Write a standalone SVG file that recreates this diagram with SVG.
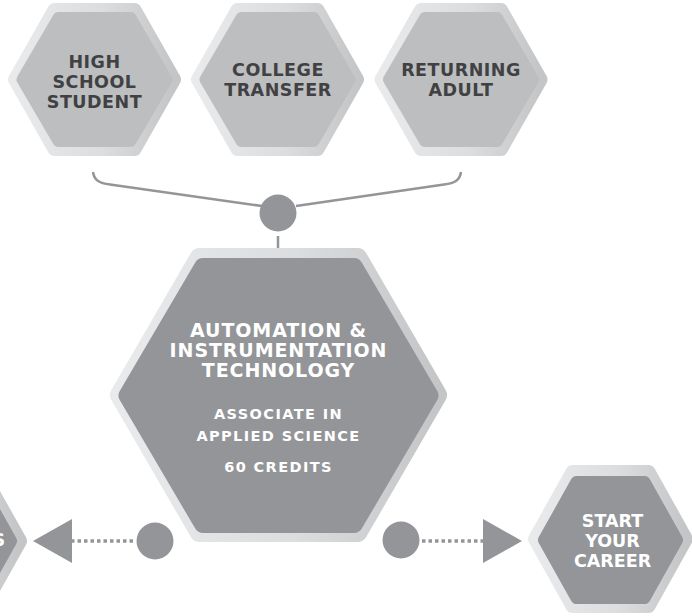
<svg xmlns="http://www.w3.org/2000/svg" width="692" height="616" viewBox="0 0 692 616">
  <defs>
    <linearGradient id="rim" x1="0" y1="0" x2="1" y2="0">
      <stop offset="0" stop-color="#e9eaeb"/>
      <stop offset="0.55" stop-color="#dcdddf"/>
      <stop offset="1" stop-color="#c4c5c7"/>
    </linearGradient>
    <style>
      .rim { fill: url(#rim); stroke: url(#rim); stroke-linejoin: round; }
      .light { fill: #bcbec0; stroke: #bcbec0; stroke-linejoin: round; }
      .dark { fill: #939598; stroke: #939598; stroke-linejoin: round; }
      .t { font-family: "DejaVu Sans", "Liberation Sans", sans-serif; font-weight: bold; text-anchor: middle; }
      .tl { fill: #414042; font-size: 17.5px; letter-spacing: 0.5px; }
      .tw { fill: #ffffff; }
      .big { font-size: 19px; letter-spacing: 0.9px; }
      .sub { font-size: 14.5px; letter-spacing: 1.4px; }
      .st { font-size: 17.5px; letter-spacing: 0px; }
      .conn { fill: none; stroke: #939598; stroke-width: 2.5; }
      .dot { fill: #939598; }
      .dots { fill: none; stroke: #939598; stroke-width: 3.5; stroke-dasharray: 3.5 3; }
    </style>
  </defs>

  <g id="connectors">
    <path class="conn" d="M93,172 C94,180 99,183 110,184.5 L262,206"/>
    <path class="conn" d="M461,172 C460,180 455,183 444,184.5 L296,206"/>
    <circle class="dot" cx="278" cy="213" r="18.5"/>
    <line class="conn" x1="278" y1="236" x2="278" y2="252"/>
    <circle class="dot" cx="155" cy="541" r="18.5"/>
    <line class="dots" x1="133" y1="541" x2="72" y2="541"/>
    <polygon class="dot" points="33,541 72,519 72,563"/>
    <circle class="dot" cx="401" cy="540" r="18.5"/>
    <line class="dots" x1="422" y1="541" x2="483" y2="541"/>
    <polygon class="dot" points="522,541 483,519 483,563"/>
  </g>

  <g id="high-school-student">
    <polygon class="rim" stroke-width="14" transform="translate(94.5,79.5)" points="-79.5,0 -40,-69.5 40,-69.5 79.5,0 40,69.5 -40,69.5"/>
    <polygon class="light" stroke-width="12" transform="translate(94.5,79.5)" points="-72,0 -36,-61.5 36,-61.5 72,0 36,61.5 -36,61.5"/>
    <text class="t tl" x="94.5" y="68">HIGH</text>
    <text class="t tl" x="94.5" y="88">SCHOOL</text>
    <text class="t tl" x="94.5" y="108">STUDENT</text>
  </g>

  <g id="college-transfer">
    <polygon class="rim" stroke-width="14" transform="translate(277.5,79.5)" points="-79.5,0 -40,-69.5 40,-69.5 79.5,0 40,69.5 -40,69.5"/>
    <polygon class="light" stroke-width="12" transform="translate(277.5,79.5)" points="-72,0 -36,-61.5 36,-61.5 72,0 36,61.5 -36,61.5"/>
    <text class="t tl" x="278" y="76">COLLEGE</text>
    <text class="t tl" x="278" y="96">TRANSFER</text>
  </g>

  <g id="returning-adult">
    <polygon class="rim" stroke-width="14" transform="translate(461,79.5)" points="-79.5,0 -40,-69.5 40,-69.5 79.5,0 40,69.5 -40,69.5"/>
    <polygon class="light" stroke-width="12" transform="translate(461,79.5)" points="-72,0 -36,-61.5 36,-61.5 72,0 36,61.5 -36,61.5"/>
    <text class="t tl" x="461" y="76">RETURNING</text>
    <text class="t tl" x="461" y="96">ADULT</text>
  </g>

  <g id="main-program">
    <polygon class="rim" stroke-width="20" transform="translate(278.5,395)" points="-158.5,0 -79,-137 79,-137 158.5,0 79,137 -79,137"/>
    <polygon class="dark" stroke-width="18" transform="translate(278.5,395.5)" points="-151,0 -75.5,-128.5 75.5,-128.5 151,0 75.5,128.5 -75.5,128.5"/>
    <text class="t tw big" x="278.5" y="337">AUTOMATION &amp;</text>
    <text class="t tw big" x="278.5" y="357">INSTRUMENTATION</text>
    <text class="t tw big" x="278.5" y="377">TECHNOLOGY</text>
    <text class="t tw sub" x="278.5" y="419">ASSOCIATE IN</text>
    <text class="t tw sub" x="278.5" y="441">APPLIED SCIENCE</text>
    <text class="t tw sub" x="278.5" y="472">60 CREDITS</text>
  </g>

  <g id="left-partial">
    <polygon class="rim" stroke-width="14" transform="translate(-55.5,541)" points="-75.5,0 -38,-67 38,-67 75.5,0 38,67 -38,67"/>
    <polygon class="dark" stroke-width="12" transform="translate(-55.5,541)" points="-66.5,0 -34,-58 34,-58 66.5,0 34,58 -34,58"/>
    <text class="t tw st" x="5" y="546" style="text-anchor:end">S</text>
  </g>

  <g id="start-your-career">
    <polygon class="rim" stroke-width="14" transform="translate(610.5,539)" points="-75.5,0 -38,-67 38,-67 75.5,0 38,67 -38,67"/>
    <polygon class="dark" stroke-width="12" transform="translate(610.5,540)" points="-66.5,0 -34,-58 34,-58 66.5,0 34,58 -34,58"/>
    <text class="t tw st" x="612.5" y="527">START</text>
    <text class="t tw st" x="612.5" y="547">YOUR</text>
    <text class="t tw st" x="612.5" y="567">CAREER</text>
  </g>
</svg>
